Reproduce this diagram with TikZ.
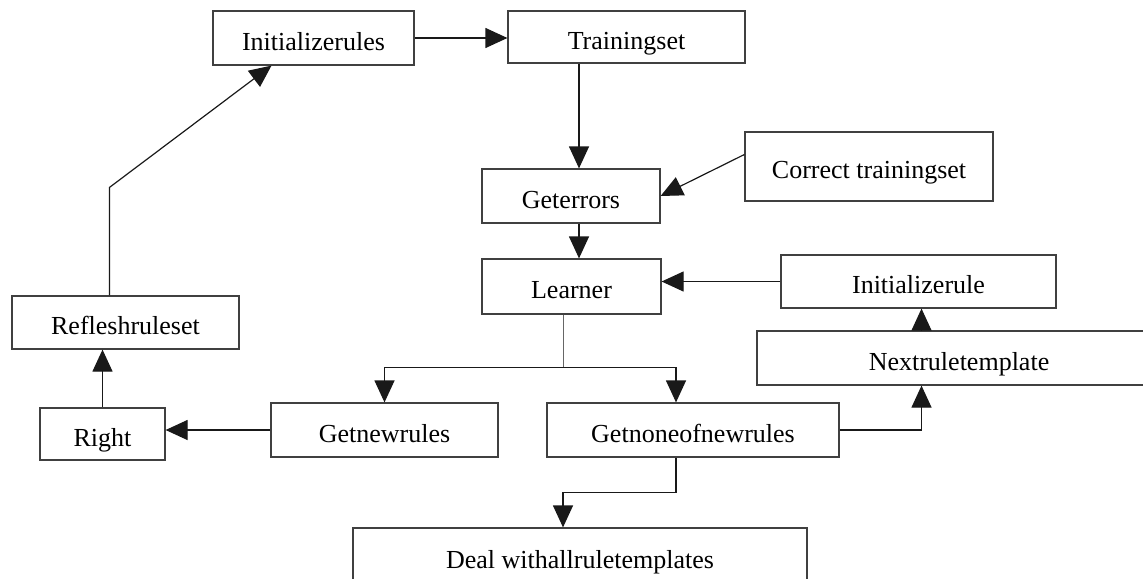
\documentclass[tikz,border=0pt]{standalone}
\usepackage{fontspec}
\setmainfont{Liberation Serif}
\usetikzlibrary{arrows.meta}
\tikzset{
  block/.style={
    % The shape:
    shape=rectangle,
    % The size:
    inner sep=0pt,text height=13pt,text depth=1pt,
    % The border:
    draw=black!75,line width=0.6pt,
    % The text:
    font=\fontsize{13}{15}\selectfont}}
\tikzset{
  flow/.style={
    ->,line width=0.6pt,draw=black!90}}

\begin{document}
\begin{tikzpicture}[x=0.5pt,y=-0.5pt,>={Triangle[length=11pt,width=10pt]}]
	\clip (0,0) rectangle (1143,578);
	% Boxes
	\node[block,minimum width=100.5pt,minimum height=27pt] (init) at (313.5,38) {Initializerules};
	\node[block,minimum width=118.5pt,minimum height=26pt] (train) at (626.5,37) {Trainingset};
	\node[block,minimum width=124pt,minimum height=34.5pt] (correct) at (869,166.5) {Correct trainingset};
	\node[block,minimum width=89pt,minimum height=27pt] (geterr) at (571,196) {Geterrors};
	\node[block,minimum width=89.5pt,minimum height=27.5pt] (learner) at (571.5,286.5) {Learner};
	\node[block,minimum width=137.5pt,minimum height=26.5pt] (initrule) at (918.5,281.5) {Initializerule};
	\node[block,minimum width=202pt,minimum height=27pt] (nextrule) at (959,358) {Nextruletemplate};
	\node[block,minimum width=113.5pt,minimum height=26.5pt] (reflesh) at (125.5,322.5) {Refleshruleset};
	\node[block,minimum width=62.5pt,minimum height=26pt] (right) at (102.5,434) {Right};
	\node[block,minimum width=113.5pt,minimum height=27pt] (getnew) at (384.5,430) {Getnewrules};
	\node[block,minimum width=146pt,minimum height=27pt] (getnone) at (693,430) {Getnoneofnewrules};
	\node[block,minimum width=227pt,minimum height=28pt] (deal) at (580,556) {Deal withallruletemplates};
	% Top row
	\draw[flow] (init.east) -- (init.east -| train.west);
	\draw[flow] ([xshift=4pt]geterr.north |- train.south) -- ([xshift=4pt]geterr.north);
	\draw[flow] ([yshift=6pt]correct.west) -- (geterr.east);
	\draw[flow] ([xshift=4pt]geterr.south) -- ([xshift=4pt]geterr.south |- learner.north);
	\draw[flow] (initrule.west) -- (initrule.west -| learner.east);
	% Lines out of learner
	\coordinate (split) at ([xshift=-4pt,yshift=-26.5pt]learner.south);
	\draw[draw=black!60,line width=0.6pt] ([xshift=-4pt]learner.south) -- (split);
	\draw[flow] (split) -| (getnew.north);
	\draw[flow] (split) -| ([xshift=-8.5pt]getnone.north);
	% Lines out of getnone
	\draw[flow] (getnone.east) -| ([xshift=1.5pt]initrule.south |- nextrule.south);
	\draw[flow] ([xshift=1.5pt]initrule.south |- nextrule.north) -- ([xshift=1.5pt]initrule.south);
	\draw[flow] ([xshift=-8.5pt]getnone.south) -- ++(0,-17.5pt) -| ([xshift=-8.5pt]deal.north);
	% Back to the start
	\draw[flow] (getnew.west) -- (getnew.west -| right.east);
	\draw[flow] (right.north) -- (right.north |- reflesh.south);
	\draw[flow] ([xshift=-8pt]reflesh.north) -- ++(0,54pt) -- ([xshift=-21pt]init.south);
\end{tikzpicture}
\end{document}
